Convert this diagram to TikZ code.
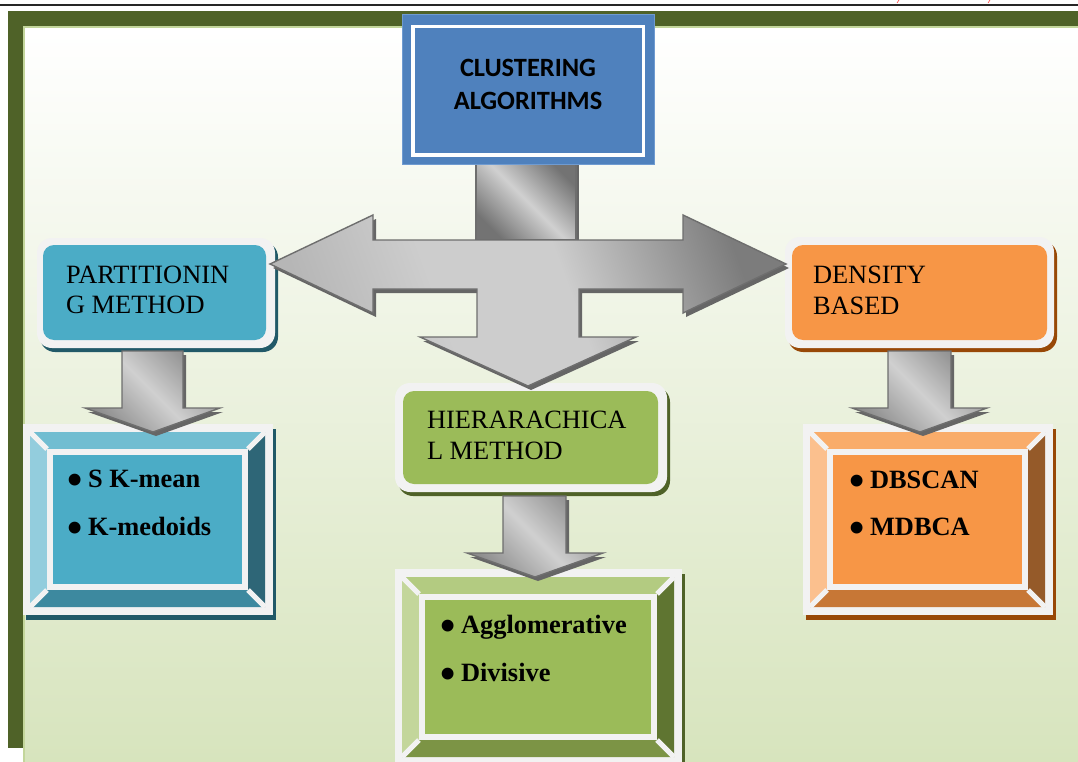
\documentclass[tikz,border=0pt]{standalone}
\usepackage{fontspec}
\setmainfont{Liberation Serif}
\newfontfamily\calib{Carlito}
\usetikzlibrary{shadows,calc,fit}

\definecolor{frameG}{HTML}{4F6228}
\definecolor{lineG}{HTML}{C3D69B}
\definecolor{bgBot}{HTML}{D7E4BD}
\definecolor{wht}{HTML}{F2F2F2}
\definecolor{blueF}{HTML}{4F81BD}
\definecolor{blueE}{HTML}{6F9BD1}
\definecolor{tealF}{HTML}{4BACC6}
\definecolor{tealS}{HTML}{215968}
\definecolor{tealT}{HTML}{71BDD1}
\definecolor{tealL}{HTML}{93CDDD}
\definecolor{tealR}{HTML}{2E6677}
\definecolor{tealB}{HTML}{3D899F}
\definecolor{grnF}{HTML}{9BBB59}
\definecolor{grnS}{HTML}{4F6228}
\definecolor{grnT}{HTML}{B3CB81}
\definecolor{grnL}{HTML}{C3D69B}
\definecolor{grnR}{HTML}{5F7531}
\definecolor{grnB}{HTML}{7C9445}
\definecolor{orgF}{HTML}{F79646}
\definecolor{orgS}{HTML}{984807}
\definecolor{orgT}{HTML}{F9AC6A}
\definecolor{orgL}{HTML}{FBC08E}
\definecolor{orgR}{HTML}{955A29}
\definecolor{orgB}{HTML}{C77736}
\definecolor{arrEdge}{HTML}{6E6E6E}
\definecolor{arrSh}{HTML}{666666}
\definecolor{gA}{HTML}{B6B6B6}
\definecolor{gL}{HTML}{CDCDCD}
\definecolor{gD}{HTML}{7C7C7C}
\definecolor{sD}{HTML}{737373}
\definecolor{sL}{HTML}{D0D0D0}
\definecolor{mD}{HTML}{8C8C8C}

\pgfdeclarehorizontalshading{crossshade}{100bp}{color(0bp)=(gA); color(25bp)=(gA); color(40bp)=(gL); color(55bp)=(gL); color(75bp)=(gD); color(100bp)=(gD)}
\pgfdeclarehorizontalshading{stemshade}{100bp}{color(0bp)=(sD); color(25bp)=(sD); color(50bp)=(sL); color(75bp)=(sD); color(100bp)=(sD)}
\pgfdeclarehorizontalshading{smallshade}{100bp}{color(0bp)=(mD); color(25bp)=(mD); color(50bp)=(sL); color(75bp)=(mD); color(100bp)=(mD)}

\newcommand\bevelbox[6]{%
  \node[fit={(#3,#4) (#5,#6)}, inner sep=0, outer sep=0, fill=wht,
        general shadow={fill=#2S, shadow xshift=3pt, shadow yshift=-5pt}] (#1) {};
  \coordinate (#1-o1) at ($(#1.north west)+(7,8)$);
  \coordinate (#1-o2) at ($(#1.north east)+(-8,8)$);
  \coordinate (#1-o3) at ($(#1.south east)+(-8,-8)$);
  \coordinate (#1-o4) at ($(#1.south west)+(7,-8)$);
  \coordinate (#1-i1) at ($(#1.north west)+(24,25)$);
  \coordinate (#1-i2) at ($(#1.north east)+(-25,25)$);
  \coordinate (#1-i3) at ($(#1.south east)+(-25,-25)$);
  \coordinate (#1-i4) at ($(#1.south west)+(24,-25)$);
  \fill[#2T] (#1-o1) -- (#1-o2) -- (#1-i2) -- (#1-i1) -- cycle;
  \fill[#2R] (#1-o2) -- (#1-o3) -- (#1-i3) -- (#1-i2) -- cycle;
  \fill[#2B] (#1-o3) -- (#1-o4) -- (#1-i4) -- (#1-i3) -- cycle;
  \fill[#2L] (#1-o4) -- (#1-o1) -- (#1-i1) -- (#1-i4) -- cycle;
  \draw[wht, line width=5] (#1-o1) -- (#1-i1) (#1-o2) -- (#1-i2) (#1-o3) -- (#1-i3) (#1-o4) -- (#1-i4);
  \fill[wht] (#1-i1) rectangle (#1-i3);
  \fill[#2F] ($(#1.north west)+(30,31)$) rectangle ($(#1.south east)+(-31,-31)$);
}
\newcommand\bul{\raisebox{-7.5pt}{\scalebox{1.65}{•}}\hspace{5.5pt}}

\begin{document}
\begin{tikzpicture}[x=1pt,y=-1pt,
  txt/.style={inner sep=0, outer sep=0, anchor=base west, font=\fontsize{26.4}{31}\selectfont},
  btxt/.style={inner sep=0, outer sep=0, anchor=base west, font=\fontsize{26.4}{31}\selectfont\bfseries},
  ctxt/.style={inner sep=0, outer sep=0, anchor=base, font=\calib\fontsize{26.4}{31}\selectfont\bfseries},
  rbox/.style={inner sep=0, outer sep=0, fill=wht, rounded corners=15},
  blockarrow/.style={draw=arrEdge, line width=1.4, line join=miter,
        general shadow={fill=arrSh, shadow xshift=3pt, shadow yshift=-4pt}},
]
\useasboundingbox (0,0) rectangle (1078,762);

% page background and frame
\draw[line width=1.3, black!85] (0,5) -- (1078,5);
\draw[red!75, line width=0.6] (899,0) -- (897,3);
\draw[red!75, line width=0.6] (990,0) -- (988,3);
\fill[frameG] (8,11) rectangle (1078,748);
\fill[lineG] (23,26) rectangle (1078,762);
\shade[top color=white, bottom color=bgBot] (25,29) rectangle (1078,762);

% stem below the title box
\shade[shading=stemshade, shading angle=45, draw=arrEdge, line width=1.4,
       general shadow={fill=arrSh, shadow xshift=3pt, shadow yshift=0pt}]
  (476,160) rectangle (576,240);

% title box
\node[fit={(402,15) (654,165)}, inner sep=0, outer sep=0, fill=blueF, draw=blueE, line width=1] (clbox) {};
\fill[white] (411,25) rectangle (645,157);
\fill[blueF] (415,28) rectangle (642,153);
\node[ctxt] (cl1) at (528,77) {CLUSTERING};
\node[ctxt] (cl2) at (528,110) {ALGORITHMS};

% rounded method boxes
\node[fit={(37,238) (275,348)}, rbox, general shadow={fill=tealS, shadow xshift=3pt, shadow yshift=-4pt}] (part) {};
\fill[tealF, rounded corners=11] (43,245) rectangle (266,340);
\node[fit={(785,237) (1054,348)}, rbox, general shadow={fill=orgS, shadow xshift=3pt, shadow yshift=-4pt}] (dens) {};
\fill[orgF, rounded corners=11] (792,245) rectangle (1047,340);
\node[fit={(395,383) (667,492)}, rbox, general shadow={fill=grnS, shadow xshift=3pt, shadow yshift=-4pt}] (hier) {};
\fill[grnF, rounded corners=11] (403,391) rectangle (658,484);

% bevelled result boxes
\bevelbox{kbox}{teal}{23}{424}{273}{615}
\bevelbox{dbox}{org}{803}{424}{1053}{615}
\bevelbox{abox}{grn}{395}{569}{682}{765}

% cross arrow
\shade[shading=crossshade, shading angle=20, blockarrow]
  (270,264) -- (373,215) -- (373,240) -- (683,240) -- (683,215) -- (786,264)
  -- (683,313) -- (683,289) -- (579,289) -- (579,337) -- (636,337) -- (528,386)
  -- (420,337) -- (477,337) -- (477,289) -- (373,289) -- (373,313) -- cycle;

% small arrows
\shade[shading=smallshade, shading angle=45, blockarrow]
  (122,351) -- (183,351) -- (183,408) -- (220,408) -- (153,432) -- (85,408) -- (122,408) -- cycle;
\shade[shading=smallshade, shading angle=45, blockarrow]
  (888,351) -- (951,351) -- (951,408) -- (987,408) -- (920,432) -- (852,408) -- (888,408) -- cycle;
\shade[shading=smallshade, shading angle=45, blockarrow]
  (503,496) -- (566,496) -- (566,553) -- (603,553) -- (535,577) -- (467,553) -- (503,553) -- cycle;

% texts
\node[txt] (p1) at (66,283) {PARTITIONIN};
\node[txt] (p2) at (66,313) {G METHOD};
\node[txt] (d1) at (813,283) {DENSITY};
\node[txt] (d2) at (813,314) {BASED};
\node[txt] (h1) at (427,428) {HIERARACHICA};
\node[txt] (h2) at (427,459) {L METHOD};
\node[btxt] (k1) at (67.3,487) {\bul S K-mean};
\node[btxt] (k2) at (67.3,535) {\bul K-medoids};
\node[btxt] (a1) at (440.3,633) {\bul Agglomerative};
\node[btxt] (a2) at (440.3,681) {\bul Divisive};
\node[btxt] (b1) at (849.3,488) {\bul DBSCAN};
\node[btxt] (b2) at (849.3,535) {\bul MDBCA};
\end{tikzpicture}
\end{document}
